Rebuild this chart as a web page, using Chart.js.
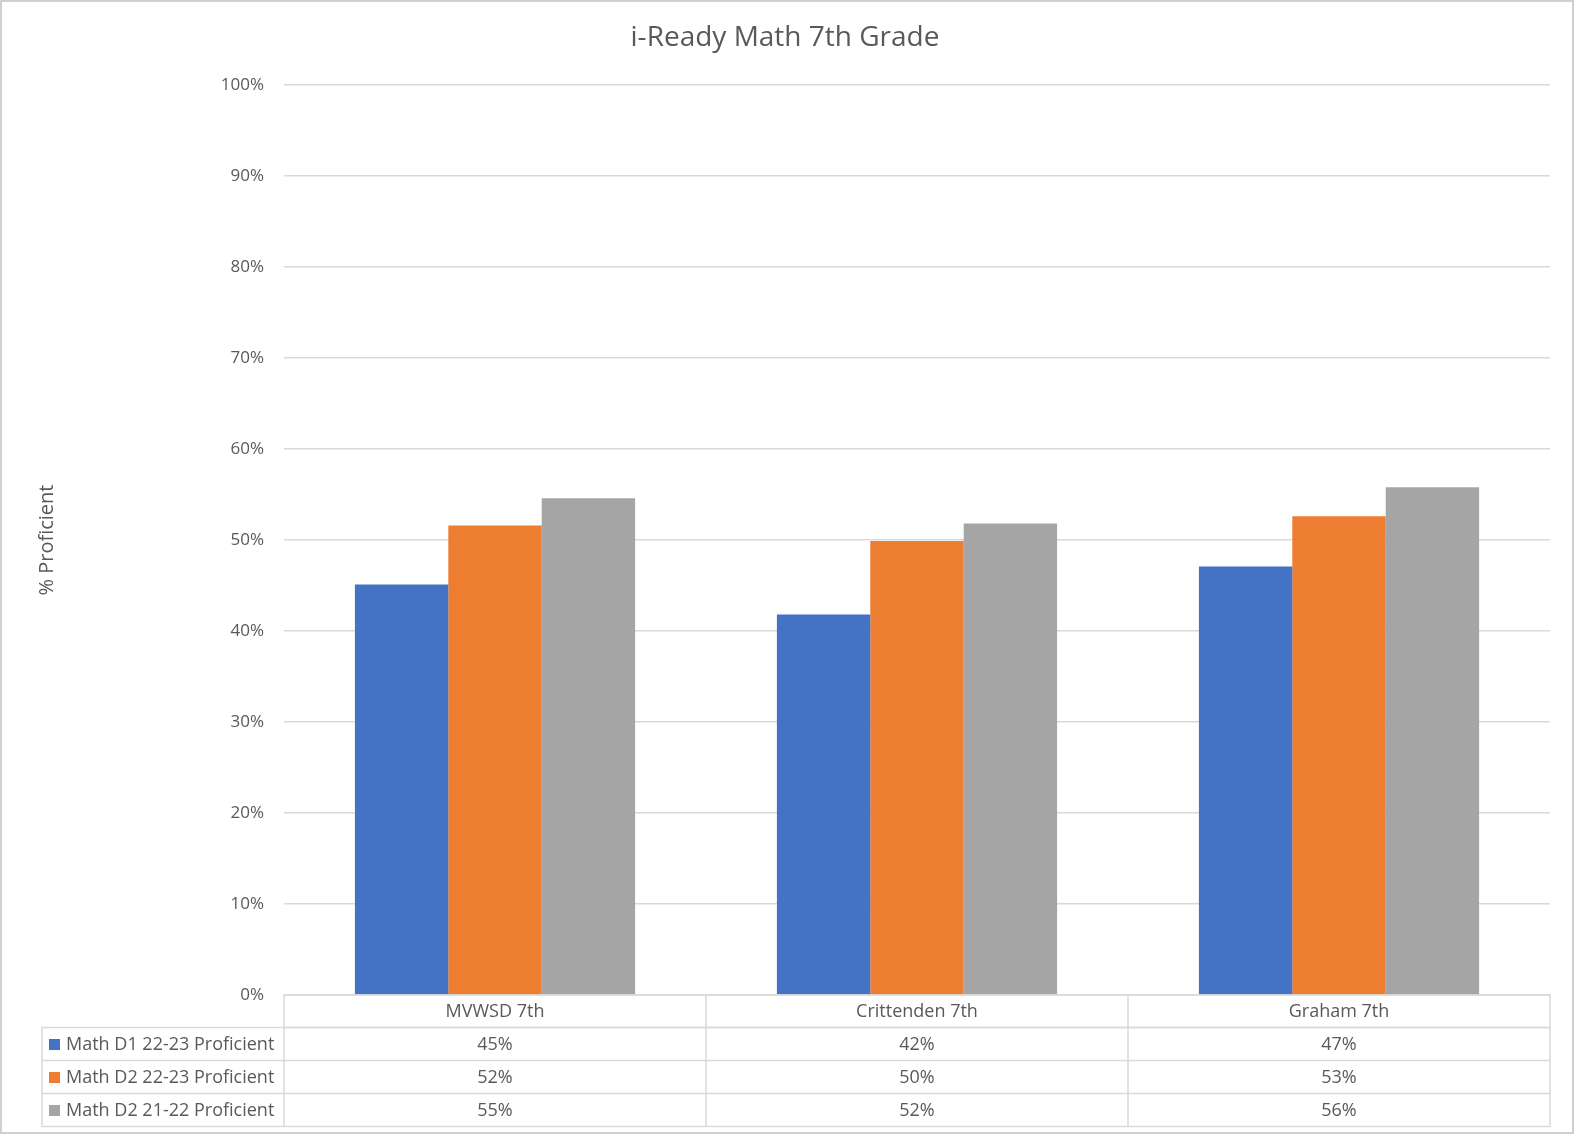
<!DOCTYPE html>
<html>
<head>
<meta charset="utf-8">
<title>i-Ready Math 7th Grade</title>
<script src="https://cdn.jsdelivr.net/npm/chart.js@4"></script>
<style>
    html, body { margin: 0; padding: 0; background: #ffffff; }
    #wrap { width: 1574px; height: 1134px; position: relative; }
</style>
</head>
<body>
<div id="wrap"><canvas id="mathChart" width="1574" height="1134"></canvas></div>
<script>
// ===== data =====
const chartTitle = 'i-Ready Math 7th Grade';
const schools = ['MVWSD 7th', 'Crittenden 7th', 'Graham 7th'];
const seriesNames = ['Math D1 22-23 Proficient', 'Math D2 22-23 Proficient', 'Math D2 21-22 Proficient'];
const d1_2223 = [45.1, 41.8, 47.1];
const d2_2223 = [51.6, 49.9, 52.6];
const d2_2122 = [54.6, 51.8, 55.8];
const seriesColors = ['#4472C4', '#ED7D31', '#A5A5A5'];

const textColor = '#595959';
const lineColor = '#d9d9d9';
const fontFamily = '"Open Sans", "Noto Sans", sans-serif';

// frame round the whole chart + title centred on the page
const framePlugin = {
    id: 'frame',
    beforeDraw(chart) {
        const ctx = chart.ctx;
        ctx.save();
        ctx.fillStyle = '#ffffff';
        ctx.fillRect(0, 0, chart.width, chart.height);
        ctx.strokeStyle = '#d0d0d0';
        ctx.lineWidth = 2;
        ctx.strokeRect(1, 1, chart.width - 2, chart.height - 2);
        ctx.restore();
    },
    afterDraw(chart) {
        const ctx = chart.ctx;
        ctx.save();
        ctx.font = '28px ' + fontFamily;
        ctx.fillStyle = textColor;
        ctx.textAlign = 'center';
        ctx.textBaseline = 'middle';
        ctx.fillText(chartTitle, chart.width / 2 - 2, 38);
        ctx.restore();
    }
};

// data table under the plot, like the spreadsheet one
const dataTablePlugin = {
    id: 'dataTable',
    afterDraw(chart) {
        const ctx = chart.ctx;
        const area = chart.chartArea;
        const xScale = chart.scales.x;
        const n = schools.length;
        const colW = area.width / n;
        const headerH = 32.5;
        const rowH = 33;
        const legendLeft = 42;
        const top = area.bottom;

        ctx.save();
        ctx.strokeStyle = lineColor;
        ctx.lineWidth = 1.5;

        // header row (category names)
        ctx.strokeRect(area.left, top, area.width, headerH);
        for (let i = 1; i < n; i++) {
            const x = area.left + colW * i;
            ctx.beginPath();
            ctx.moveTo(x, top);
            ctx.lineTo(x, top + headerH + rowH * 3);
            ctx.stroke();
        }
        // data rows
        const rowsTop = top + headerH;
        ctx.strokeRect(legendLeft, rowsTop, area.right - legendLeft, rowH * 3);
        for (let r = 1; r < 3; r++) {
            ctx.beginPath();
            ctx.moveTo(legendLeft, rowsTop + rowH * r);
            ctx.lineTo(area.right, rowsTop + rowH * r);
            ctx.stroke();
        }
        ctx.beginPath();
        ctx.moveTo(area.left, rowsTop);
        ctx.lineTo(area.left, rowsTop + rowH * 3);
        ctx.stroke();

        ctx.font = '18px ' + fontFamily;
        ctx.fillStyle = textColor;
        ctx.textAlign = 'center';
        ctx.textBaseline = 'middle';
        schools.forEach((name, i) => {
            ctx.fillText(name, xScale.getPixelForValue(i), top + headerH / 2 + 1);
        });

        chart.data.datasets.forEach((ds, r) => {
            const cy = rowsTop + rowH * r + rowH / 2 + 1;
            // legend key
            ctx.fillStyle = ds.backgroundColor;
            ctx.fillRect(legendLeft + 7, cy - 6, 11, 11);
            ctx.fillStyle = textColor;
            ctx.textAlign = 'left';
            ctx.fillText(ds.label, legendLeft + 24, cy);
            // values
            ctx.textAlign = 'center';
            ds.data.forEach((v, i) => {
                ctx.fillText(Math.round(v) + '%', xScale.getPixelForValue(i), cy);
            });
        });
        ctx.restore();
    }
};

function makeDataset(label, values, color) {
    return {
        label: label,
        data: values,
        backgroundColor: color,
        borderWidth: 0,
        categoryPercentage: 0.664,
        barPercentage: 1.0
    };
}

document.addEventListener('DOMContentLoaded', function() {
    const ctx = document.getElementById('mathChart').getContext('2d');
    new Chart(ctx, {
        type: 'bar',
        data: {
            labels: schools,
            datasets: [
                makeDataset(seriesNames[0], d1_2223, seriesColors[0]),
                makeDataset(seriesNames[1], d2_2223, seriesColors[1]),
                makeDataset(seriesNames[2], d2_2122, seriesColors[2])
            ]
        },
        options: {
            responsive: false,
            animation: false,
            layout: {
                padding: { left: 0, right: 24, top: 85, bottom: 139 }
            },
            plugins: {
                legend: { display: false },
                tooltip: { enabled: false },
                title: { display: false }
            },
            scales: {
                x: {
                    display: true,
                    grid: { display: false, drawTicks: false },
                    border: { display: false },
                    ticks: { display: false }
                },
                y: {
                    min: 0,
                    max: 100,
                    afterFit: function(scale) { scale.width = 284; },
                    ticks: {
                        stepSize: 10,
                        padding: 20,
                        color: textColor,
                        font: { family: fontFamily, size: 17 },
                        callback: function(value) { return value + '%'; }
                    },
                    grid: { color: lineColor, lineWidth: 1.5, drawTicks: false },
                    border: { display: false },
                    title: {
                        display: true,
                        text: '% Proficient',
                        color: textColor,
                        font: { family: fontFamily, size: 20 },
                        padding: { top: 35, bottom: 0 }
                    }
                }
            }
        },
        plugins: [framePlugin, dataTablePlugin]
    });
});
</script>
</body>
</html>
